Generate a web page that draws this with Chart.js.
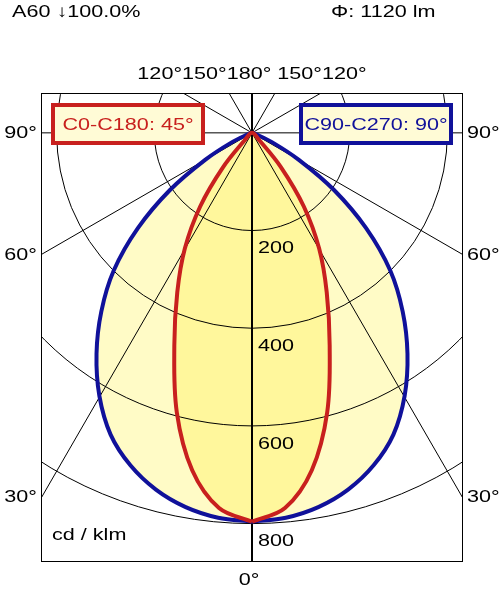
<!DOCTYPE html><html><head><meta charset="utf-8">
<script src="https://cdn.jsdelivr.net/npm/chart.js@4.4.0/dist/chart.umd.min.js"></script>
<style>body{margin:0;background:#fff}canvas{display:block}</style></head><body>
<canvas id="c" width="500" height="590"></canvas>
<script>
const angles = [0,5,10,15,20,25,30,35,40,45,50,55,60,65,70,75];
const c0c180 = [800,775,705,595,465,362,275,185,92,20,0];
const c90c270 = [800,795,782,760,728,685,625,555,480,400,305,205,110,45,10,0];
const rings = [200,400,600,800];
const spokes = [0,30,60,90,120,150];
const FONT = '17px "Liberation Sans", Arial, sans-serif';
const SX = 1.27;

function loop(vals){
  const pts=[];
  for(let i=0;i<vals.length;i++){const t=angles[i]*Math.PI/180;pts.push({x:vals[i]*Math.sin(t),y:-vals[i]*Math.cos(t)});}
  for(let i=vals.length-2;i>=1;i--){const t=angles[i]*Math.PI/180;pts.push({x:-vals[i]*Math.sin(t),y:-vals[i]*Math.cos(t)});}
  pts.push({x:pts[0].x,y:pts[0].y});
  return pts;
}
function txt(ctx,s,x,y,align){ctx.save();ctx.translate(x,y);ctx.scale(SX,1);ctx.textAlign=align||'left';ctx.fillText(s,0,0);ctx.restore();}
const grid={id:'grid',
  afterDatasetDraw(chart,args){
    if(chart.data.datasets[args.index].label!=='redFill')return;
    const ctx=chart.ctx,a=chart.chartArea,xs=chart.scales.x,ys=chart.scales.y;
    const cx=xs.getPixelForValue(0),cy=ys.getPixelForValue(0),k=xs.getPixelForValue(100)-cx;
    ctx.save();ctx.beginPath();ctx.rect(a.left,a.top,a.right-a.left,a.bottom-a.top);ctx.clip();
    ctx.strokeStyle='#000';ctx.lineWidth=1;
    rings.forEach(r=>{ctx.beginPath();ctx.arc(cx,cy,r*k/100,0,2*Math.PI);ctx.stroke();});
    spokes.forEach(s=>{const t=s*Math.PI/180,L=2000;ctx.beginPath();
      ctx.moveTo(cx-L*Math.sin(t),cy-L*Math.cos(t));ctx.lineTo(cx+L*Math.sin(t),cy+L*Math.cos(t));
      ctx.lineWidth=(s===0)?2:1;ctx.stroke();});
    ctx.fillStyle='#000';ctx.font=FONT;ctx.textBaseline='middle';
    rings.forEach(r=>txt(ctx,String(r),cx+6,cy+r*k/100+18,'left'));
    ctx.restore();
  },
  afterDraw(chart){
    const ctx=chart.ctx,a=chart.chartArea;
    ctx.save();ctx.strokeStyle='#000';ctx.lineWidth=1;ctx.strokeRect(a.left+0.5,a.top+0.5,a.right-a.left-1,a.bottom-a.top-1);
    ctx.font=FONT;ctx.fillStyle='#000';ctx.textBaseline='middle';
    txt(ctx,'A60 \u2193100.0%',12,12,'left');
    txt(ctx,'\u03A6: 1120 lm',331,12,'left');
    txt(ctx,'120°150°180° 150°120°',252,74,'center');txt(ctx,'0°',249,580,'center');
    [['90°',133],['60°',255],['30°',497]].forEach(l=>txt(ctx,l[0],37,l[1],'right'));
    [['90°',133],['60°',255],['30°',497]].forEach(l=>txt(ctx,l[0],467,l[1],'left'));
    txt(ctx,'cd / klm',52,535,'left');
    function box(x,y,w,h,col,s){ctx.fillStyle='#fffbd6';ctx.fillRect(x,y,w,h);ctx.lineWidth=4;ctx.strokeStyle=col;ctx.strokeRect(x,y,w,h);
      ctx.fillStyle=col;txt(ctx,s,x+w/2,y+h/2+1,'center');}
    box(53,105,150,38,'#c8201e','C0-C180: 45°');
    box(301,105,150,38,'#10119a','C90-C270: 90°');
    ctx.restore();
  }};
const common={showLine:true,tension:0.35,pointRadius:0};
new Chart(document.getElementById('c'),{type:'scatter',
  data:{datasets:[
    Object.assign({label:'blueFill',data:loop(c90c270),borderWidth:0,borderColor:'rgba(0,0,0,0)',backgroundColor:'#fffbc6',fill:'shape',order:10},common),
    Object.assign({label:'redFill',data:loop(c0c180),borderWidth:0,borderColor:'rgba(0,0,0,0)',backgroundColor:'#fff79c',fill:'shape',order:9},common),
    Object.assign({label:'C90-C270',data:loop(c90c270),borderWidth:4,borderColor:'#10119a',fill:false,order:2},common),
    Object.assign({label:'C0-C180',data:loop(c0c180),borderWidth:4,borderColor:'#c8201e',fill:false,order:1},common)
  ]},
  options:{responsive:false,animation:false,devicePixelRatio:1,
    layout:{padding:{left:41,right:37,top:93,bottom:28}},
    scales:{x:{type:'linear',min:-432,max:432,display:false},y:{type:'linear',min:-883,max:82,display:false}},
    plugins:{legend:{display:false},tooltip:{enabled:false}}},
  plugins:[grid]});
</script></body></html>
